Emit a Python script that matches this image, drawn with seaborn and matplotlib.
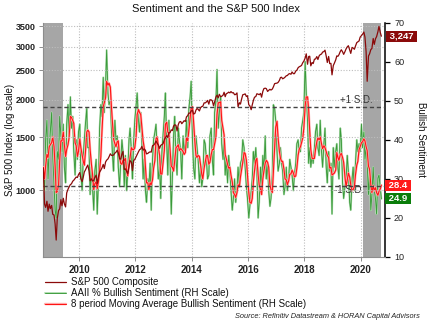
import pandas as pd
import matplotlib
matplotlib.use("Agg")
import matplotlib.pyplot as plt
import matplotlib.dates as mdates
import matplotlib.patheffects as pe
import matplotlib.transforms as mtransforms
from matplotlib.ticker import FixedLocator, FuncFormatter, NullLocator
import seaborn as sns

# S&P 500 closes, twice a month (10th and 24th), Sep 2008 - Sep 2020
sp500_close = [
    1186, 899, 877, 919, 851, 899, 869,
    890, 832, 827, 773, 683, 806, 857, 866, 930, 888, 940, 900, 880, 979, 1007, 1025, 1044, 1050, 1071, 1079, 1093, 1106, 1102, 1126,
    1145, 1092, 1068, 1105, 1150, 1167, 1194, 1212, 1157, 1074, 1091, 1073, 1078, 1102, 1122, 1051, 1110, 1148, 1166, 1185, 1218, 1180, 1240, 1258,
    1270, 1291, 1321, 1306, 1304, 1309, 1328, 1337, 1357, 1331, 1271, 1268, 1317, 1345, 1172, 1177, 1154, 1136, 1195, 1254, 1239, 1161, 1255, 1265,
    1292, 1314, 1342, 1363, 1371, 1397, 1358, 1371, 1357, 1320, 1325, 1335, 1341, 1338, 1405, 1411, 1429, 1457, 1432, 1413, 1377, 1409, 1418, 1426,
    1472, 1494, 1517, 1496, 1552, 1551, 1587, 1578, 1633, 1649, 1643, 1573, 1652, 1685, 1691, 1663, 1683, 1702, 1692, 1752, 1770, 1804, 1802, 1833,
    1842, 1790, 1799, 1845, 1867, 1857, 1833, 1878, 1896, 1900, 1950, 1949, 1964, 1987, 1931, 1997, 1995, 1982, 1906, 1964, 2039, 2069, 2026, 2082,
    2044, 2051, 2068, 2115, 2044, 2091, 2102, 2117, 2105, 2126, 2105, 2108, 2076, 2079, 2104, 1893, 1952, 1932, 2013, 2075, 2081, 2089, 2047, 2060,
    1922, 1906, 1851, 1921, 1989, 2036, 2047, 2091, 2084, 2076, 2096, 2037, 2129, 2175, 2182, 2175, 2128, 2146, 2163, 2151, 2167, 2204, 2259, 2264,
    2268, 2280, 2316, 2367, 2372, 2344, 2357, 2374, 2399, 2404, 2431, 2439, 2427, 2470, 2438, 2438, 2488, 2502, 2550, 2569, 2582, 2597, 2652, 2683,
    2748, 2837, 2620, 2779, 2786, 2588, 2656, 2634, 2723, 2727, 2779, 2717, 2794, 2820, 2833, 2875, 2887, 2919, 2786, 2656, 2781, 2633, 2637, 2416,
    2596, 2643, 2709, 2793, 2783, 2818, 2888, 2927, 2881, 2826, 2886, 2945, 2993, 3019, 2919, 2847, 2979, 2966, 2938, 3010, 3091, 3110, 3132, 3224,
    3265, 3295, 3352, 3226, 2882, 2300, 2790, 2837, 2930, 2955, 3190, 3050, 3185, 3236, 3360, 3500, 3339, 3247,
]

# AAII % bullish readings on the same dates
aaii_bullish = [
    33, 27, 40, 45, 30, 38, 42,
    47, 36, 28, 22, 20, 37, 35, 46, 41, 37, 44, 33, 29, 44, 49, 40, 51, 43, 46, 37, 31, 40, 35, 42,
    44, 31, 27, 36, 40, 44, 48, 38, 38, 26, 33, 28, 22, 32, 35, 21, 30, 43, 49, 46, 56, 47, 54, 63,
    52, 49, 50, 43, 36, 32, 45, 40, 41, 33, 28, 34, 40, 37, 28, 36, 27, 32, 40, 43, 37, 30, 40, 45,
    49, 52, 45, 42, 47, 40, 30, 35, 27, 24, 30, 28, 34, 22, 35, 40, 42, 44, 37, 30, 33, 25, 37, 41,
    46, 52, 39, 31, 45, 36, 21, 30, 41, 46, 35, 31, 43, 40, 37, 30, 41, 37, 39, 45, 38, 48, 51, 55,
    40, 33, 30, 41, 38, 35, 29, 33, 28, 30, 40, 39, 35, 30, 31, 41, 43, 35, 31, 47, 50, 58, 43, 47,
    51, 39, 35, 40, 31, 35, 29, 36, 32, 27, 22, 25, 30, 24, 27, 33, 28, 34, 35, 40, 38, 33, 28, 25,
    20, 23, 27, 30, 37, 34, 38, 32, 20, 24, 33, 27, 36, 32, 41, 30, 34, 27, 23, 25, 31, 49, 48, 45,
    37, 32, 34, 38, 34, 32, 26, 28, 33, 27, 30, 35, 33, 31, 27, 31, 34, 39, 40, 37, 37, 43, 45, 47,
    60, 52, 45, 34, 38, 33, 36, 34, 38, 42, 44, 38, 36, 45, 37, 33, 39, 43, 33, 29, 37, 32, 34, 21,
    38, 33, 37, 39, 33, 30, 43, 40, 29, 25, 28, 30, 36, 32, 24, 22, 30, 33, 27, 34, 40, 37, 39, 37,
    44, 38, 42, 35, 38, 34, 26, 32, 22, 26, 33, 27, 25, 21, 30.2, 31.0, 27.5, 24.9,
]

ma_window = 4            # 4 semi-monthly readings = 8 weeks
sd_upper = 48.5
sd_lower = 28.2
recessions = [("2008-09-01", "2009-06-01"), ("2020-02-01", "2020-09-24")]
left_ticks = [1000, 1500, 2000, 2500, 3000, 3500]
right_ticks = [10, 20, 30, 40, 50, 60, 70]

assert len(sp500_close) == len(aaii_bullish)
dates = pd.date_range(end="2020-09-15", periods=len(aaii_bullish), freq="SMS") + pd.Timedelta(days=9)
df = pd.DataFrame({"date": dates, "sp500": sp500_close, "bullish": aaii_bullish})
df["bullish_ma"] = df["bullish"].rolling(ma_window, min_periods=1).mean()

sns.set_style("white")
plt.rcParams["font.family"] = ["Liberation Sans", "DejaVu Sans"]

W, H = 430, 327
fig = plt.figure(figsize=(W / 100, H / 100), dpi=100)
ax = fig.add_axes([43 / W, 1 - 257 / H, 342 / W, (257 - 22.7) / H])
ax2 = ax.twinx()

# shaded periods
for start, end in recessions:
    ax.axvspan(pd.Timestamp(start), pd.Timestamp(end), color="#a6a6a6", lw=0, zorder=0)

# sentiment on the right-hand scale
sns.lineplot(data=df, x="date", y="bullish", ax=ax, color="#3a9a3a", lw=0.65, legend=False,
             path_effects=[pe.Stroke(linewidth=1.4, foreground="#b3dfb3"), pe.Normal()], zorder=3)
line_bull = ax.lines[-1]
sns.lineplot(data=df, x="date", y="bullish_ma", ax=ax, color="#ff1414", lw=0.8, legend=False,
             path_effects=[pe.Stroke(linewidth=1.7, foreground="#ffb0b0"), pe.Normal()], zorder=4)
line_ma = ax.lines[-1]

for lvl in (sd_upper, sd_lower):
    ax.axhline(lvl, color="#444444", lw=1.0, ls=(0, (3, 2)), zorder=5)

# S&P 500 on the left-hand log scale
sns.lineplot(data=df, x="date", y="sp500", ax=ax2, color="#8b0a0a", lw=0.9, legend=False, zorder=6)
line_sp = ax2.lines[-1]

ax.set_xlim(pd.Timestamp("2008-09-20"), pd.Timestamp("2020-11-10"))
ax.xaxis.set_major_locator(mdates.YearLocator(2))
ax.xaxis.set_major_formatter(mdates.DateFormatter("%Y"))
ax.set_ylim(10, 70)
ax.yaxis.set_major_locator(FixedLocator(right_ticks))

ax2.set_yscale("log")
ax2.set_ylim(600, 3600)
ax2.yaxis.set_major_locator(FixedLocator(left_ticks))
ax2.yaxis.set_major_formatter(FuncFormatter(lambda v, _: f"{v:.0f}"))
ax2.yaxis.set_minor_locator(NullLocator())

# price scale on the left, sentiment scale on the right
ax.yaxis.tick_right()
ax2.yaxis.tick_left()
ax.set_xlabel("")
ax.set_ylabel("")
ax2.set_ylabel("")

grid_kw = dict(color="#bdbdbd", ls=(0, (1, 1.5)), lw=0.8)
ax.set_axisbelow(True)
ax.grid(axis="x", **grid_kw)
ax.grid(axis="y", visible=False)
ax2.grid(axis="y", **grid_kw)
ax2.grid(axis="x", visible=False)

for s in ax2.spines.values():
    s.set_visible(False)
ax.spines["top"].set_visible(False)
ax.spines["left"].set_color("#8c8c8c")
ax.spines["bottom"].set_color("#8c8c8c")
ax.spines["left"].set_linewidth(0.8)
ax.spines["bottom"].set_linewidth(0.8)
ax.spines["right"].set_color("black")
ax.spines["right"].set_linewidth(1.1)

ax.tick_params(axis="y", which="major", direction="out", length=3.5, width=0.9, color="black",
               labelsize=6.5, pad=3, right=True, left=False, labelright=True, labelleft=False,
               labelcolor="#222222")
ax2.tick_params(axis="y", which="major", direction="out", length=3, width=0.7, color="#8c8c8c",
                labelsize=6.5, pad=2.5, left=True, right=False, labelleft=True, labelright=False,
                labelcolor="#222222")
ax.tick_params(axis="x", direction="out", length=3, width=0.7, color="#8c8c8c",
               labelsize=7, pad=2.5, bottom=True, labelcolor="#222222")
plt.setp(ax.get_xticklabels(), fontweight="bold")
plt.setp(ax2.get_yticklabels(), fontweight="bold")

# standard deviation bands
sd_trans = mtransforms.blended_transform_factory(ax.transAxes, ax.transData)
ax.annotate("+1 S.D.", xy=(0.915, sd_upper), xycoords=sd_trans, xytext=(0, 1.5),
            textcoords="offset points", ha="center", va="bottom", fontsize=7, color="#333333", zorder=7)
ax.annotate("-1 S.D.", xy=(0.895, sd_lower), xycoords=sd_trans, xytext=(0, 0.5),
            textcoords="offset points", ha="center", va="top", fontsize=7, color="#333333", zorder=7)

# latest-value tags on the right edge
last_sp = df["sp500"].iloc[-1]
last_ma = df["bullish_ma"].iloc[-1]
last_bull = df["bullish"].iloc[-1]
tag_kw = dict(ha="left", va="center", fontsize=6.8, fontweight="bold", color="white",
              clip_on=False, zorder=20)
sp_trans = mtransforms.blended_transform_factory(ax2.transAxes, ax2.transData)
rh_trans = mtransforms.blended_transform_factory(ax2.transAxes, ax.transData)
ax2.text(1.006, last_sp, f" {last_sp:,.0f} ", transform=sp_trans,
         bbox=dict(boxstyle="square,pad=0.1", fc="#8b0a0a", ec="none"), **tag_kw)
ax2.text(1.004, last_ma, f" {last_ma:.1f} ", transform=rh_trans,
         bbox=dict(boxstyle="square,pad=0.1", fc="#ff1a1a", ec="none"), **tag_kw)
ax2.text(1.004, last_bull, f" {last_bull:.1f} ", transform=rh_trans,
         bbox=dict(boxstyle="square,pad=0.1", fc="#0a7d0a", ec="none"), **tag_kw)

fig.text(216 / W, 1 - 9.5 / H, "Sentiment and the S&P 500 Index", ha="center", va="center",
         fontsize=8, color="#111111")
fig.text(10 / W, 1 - 140 / H, "S&P 500 Index (log scale)", rotation=90, ha="center", va="center",
         fontsize=7, color="#111111")
fig.text(421.5 / W, 1 - 140 / H, "Bullish Sentiment", rotation=270, ha="center", va="center",
         fontsize=7, color="#111111")
fig.text(420 / W, 1 - 316 / H, "Source: Refinitiv Datastream & HORAN Capital Advisors",
         ha="right", va="center", fontsize=5.3, style="italic", color="#222222")

fig.legend([line_sp, line_bull, line_ma],
           ["S&P 500 Composite", "AAII % Bullish Sentiment (RH Scale)",
            "8 period Moving Average Bullish Sentiment (RH Scale)"],
           loc="upper left", bbox_to_anchor=(45 / W, 1 - 277 / H), frameon=False,
           fontsize=7, borderpad=0, borderaxespad=0, labelspacing=0.12,
           handlelength=2.2, handletextpad=0.5, labelcolor="#111111")

fig.savefig("out.png", dpi=100)
